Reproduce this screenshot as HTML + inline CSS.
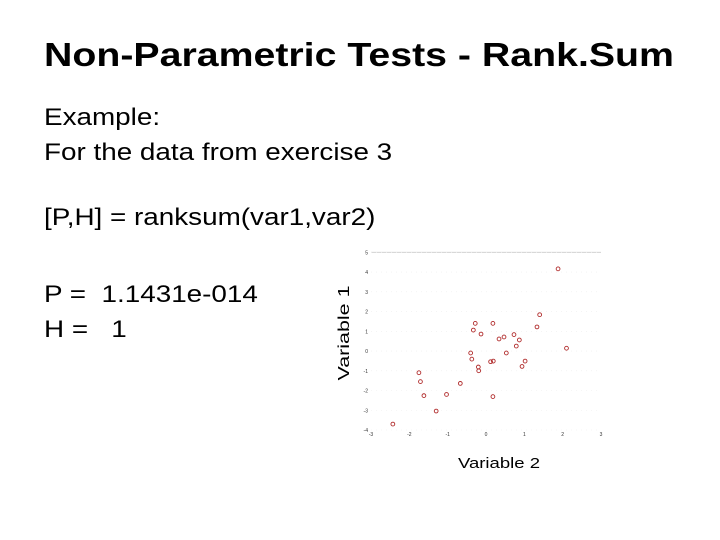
<!DOCTYPE html>
<html><head><meta charset="utf-8"><style>
body{margin:0;width:720px;height:540px;background:#fff;font-family:"Liberation Sans",sans-serif;overflow:hidden;position:relative}
.t{position:absolute;color:#000;white-space:nowrap;transform-origin:0 0}
</style></head><body>
<div class="t" style="left:44px;top:35px;font-size:33px;line-height:40px;font-weight:bold;transform:scaleX(1.19)">Non-Parametric Tests - Rank.Sum</div>
<div class="t" style="left:44px;top:100px;font-size:24px;line-height:35px;transform:scaleX(1.16)">Example:<br>For the data from exercise 3</div>
<div class="t" style="left:44px;top:200px;font-size:24px;line-height:35px;transform:scaleX(1.16)">[P,H] = ranksum(var1,var2)</div>
<div class="t" style="left:44px;top:277px;font-size:24px;line-height:35px;transform:scaleX(1.16)">P =&nbsp; 1.1431e-014<br>H =&nbsp;&nbsp; 1</div>
<svg id="chart" width="720" height="540" style="position:absolute;left:0;top:0">
<text transform="translate(349,333) rotate(-90)" text-anchor="middle" font-size="16" textLength="95" lengthAdjust="spacingAndGlyphs" font-family="Liberation Sans">Variable 1</text>
<text x="499" y="468" text-anchor="middle" font-size="15" textLength="82" lengthAdjust="spacingAndGlyphs" font-family="Liberation Sans">Variable 2</text>
</svg>
<script>
const xs=[1.88,1.40,1.33,2.10,-0.28,0.18,-0.33,-0.13,0.34,0.47,0.73,0.87,0.79,0.53,-0.40,-0.37,0.12,0.19,1.02,0.94,-0.20,-0.19,-1.75,-1.71,-0.67,-1.62,-1.03,0.18,-1.30,-2.43];
const ys=[4.16,1.84,1.22,0.14,1.40,1.40,1.06,0.86,0.61,0.71,0.83,0.56,0.25,-0.10,-0.10,-0.41,-0.54,-0.51,-0.51,-0.78,-0.81,-1.00,-1.10,-1.55,-1.64,-2.26,-2.20,-2.31,-3.04,-3.70];
const xTicks=[-3,-2,-1,0,1,2,3];
const yTicks=[-4,-3,-2,-1,0,1,2,3,4,5];
const X=v=>371+(v+3)*(601-371)/6;
const Y=v=>430-(v+4)*(430-252.3)/9;
const svgEl=document.getElementById('chart');
const NS='http://www.w3.org/2000/svg';
function mk(t,a){const e=document.createElementNS(NS,t);for(const k in a)e.setAttribute(k,a[k]);svgEl.appendChild(e);return e;}
const topBorder=mk('line',{x1:X(-3),x2:X(3),y1:Y(5),y2:Y(5),stroke:'#ccc','stroke-width':0.8});


yTicks.forEach(v=>{
 const g=mk('line',{x1:X(-3),x2:X(3),y1:Y(v),y2:Y(v),stroke:'#eee','stroke-width':0.6,'stroke-dasharray':'1 4'});
 
 
 const t=mk('text',{x:X(-3)-3,y:Y(v)+2,'text-anchor':'end','font-size':5,'font-family':'Liberation Sans',fill:'#333'});
 t.textContent=v;
 
 
});
xTicks.forEach(v=>{
 const t=mk('text',{x:X(v),y:Y(-4)+6,'text-anchor':'middle','font-size':5,'font-family':'Liberation Sans',fill:'#333'});
 t.textContent=v;
 
 
});
xs.forEach((x,i)=>{
 const c=mk('circle',{cx:X(x),cy:Y(ys[i]),r:1.9,fill:'none',stroke:'#b02a2a','stroke-width':0.9});
 
 
});
</script>
</body></html>
